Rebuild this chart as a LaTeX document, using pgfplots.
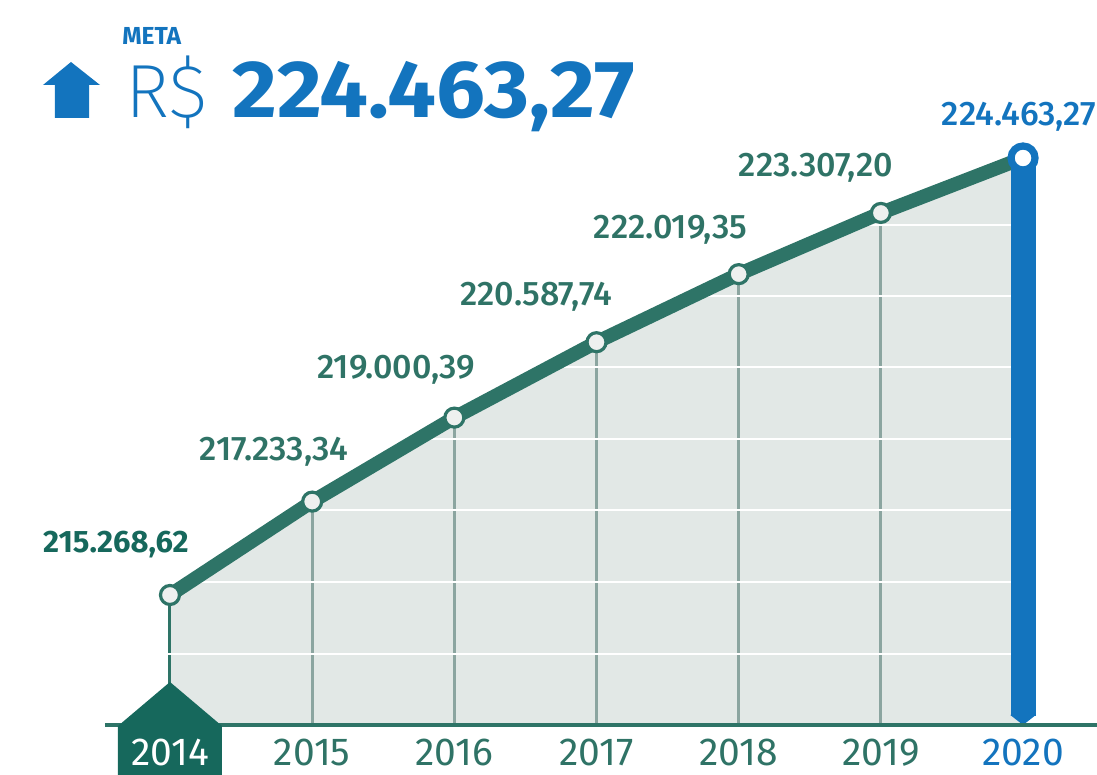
\documentclass[border=0pt]{standalone}
\usepackage{fontspec}
\setmainfont{Fira Sans}
\IfFontExistsTF{Fira Sans Medium}{\newfontfamily\medfont{Fira Sans Medium}}{\newfontfamily\medfont{Fira Sans}}
\IfFontExistsTF{Fira Sans ExtraLight}{\newfontfamily\lightfont{Fira Sans ExtraLight}}{%
  \IfFontExistsTF{Fira Sans Light}{\newfontfamily\lightfont{Fira Sans Light}}{\newfontfamily\lightfont{Fira Sans}}}
\usepackage{pgfplots}
\pgfplotsset{compat=1.18}
\usetikzlibrary{arrows.meta}

\definecolor{lineC}{RGB}{46,116,103}
\definecolor{dropC}{RGB}{139,165,160}
\definecolor{fillC}{RGB}{226,232,230}
\definecolor{labC}{RGB}{47,115,102}
\definecolor{darkC}{RGB}{22,104,92}
\definecolor{blueC}{RGB}{19,116,190}
\definecolor{markF}{RGB}{238,240,239}

\pgfplotsset{vlabel/.style n args={3}{draw=none, mark=none, point meta=explicit symbolic, nodes near coords,
  every node near coord/.append style={anchor=center, xshift=#1, yshift=#2,
    font=\medfont\fontsize{17}{20}\selectfont, text=#3}}}

\begin{document}
\begin{tikzpicture}
\useasboundingbox (-52.5pt,-25pt) rectangle (496pt,362.5pt);
\begin{axis}[
  at={(0,0)}, anchor=south west, scale only axis,
  width=496pt, height=362.5pt,
  xmin=2013.543, xmax=2020.52, ymin=212533, ymax=227788,
  clip=false, axis on top, axis line style={draw=none},
  ytick=\empty, xtick={2014,2015,2016,2017,2018,2019,2020}, major tick length=0pt,
  xticklabels={\textcolor{white}{2014},2015,2016,2017,2018,2019,\textcolor{blueC}{2020}},
  xticklabel style={font=\fontsize{19.5}{22}\selectfont, text=labC, anchor=base, text depth=0pt,
    inner sep=0pt, yshift=-20.5pt}]

% area under the line
\addplot[draw=none, fill=fillC] coordinates {(2014,212533) (2014,215268.62) (2015,217233.34) (2016,219000.39)
  (2017,220587.74) (2018,222019.35) (2019,223307.20) (2020,224463.27) (2020,212533)} -- cycle;

% drop lines
\addplot[lineC, line width=1.5pt] coordinates {(2014,212533) (2014,215268.62)};
\addplot[dropC, line width=1.5pt] coordinates {(2015,212533) (2015,217233.34)};
\addplot[dropC, line width=1.5pt] coordinates {(2016,212533) (2016,219000.39)};
\addplot[dropC, line width=1.5pt] coordinates {(2017,212533) (2017,220587.74)};
\addplot[dropC, line width=1.5pt] coordinates {(2018,212533) (2018,222019.35)};
\addplot[dropC, line width=1.5pt] coordinates {(2019,212533) (2019,223307.20)};

% white grid lines
\pgfplotsinvokeforeach{0.0986,0.1972,0.2959,0.3945,0.4931,0.5917,0.6903}{
  \draw[white, line width=1pt] (rel axis cs:0,#1) -- (rel axis cs:1,#1);
}

% main line
\addplot[lineC, line width=7pt, mark=*, mark indices={1,2,3,4,5,6}, mark size=4.75pt,
  mark options={draw=lineC, fill=markF, line width=1.6pt}]
  coordinates {(2014,215268.62) (2015,217233.34) (2016,219000.39) (2017,220587.74)
  (2018,222019.35) (2019,223307.20) (2020,224463.27)};

% 2020 bar
\addplot[blueC, line width=12.5pt, -{Triangle[width=12.5pt,length=5pt]}]
  coordinates {(2020,224463.27) (2020,212533)};
\addplot[only marks, mark=*, mark size=6pt, mark options={draw=blueC, fill=white, line width=3.6pt}]
  coordinates {(2020,224463.27)};

% baseline and 2014 tag
\draw[lineC, line width=2pt] (rel axis cs:0,0) -- (rel axis cs:1,0);
\fill[darkC] ([shift={(-26pt,-30pt)}]axis cs:2014,212533) -- ([shift={(-26pt,-0.5pt)}]axis cs:2014,212533)
  -- ([shift={(0pt,21.5pt)}]axis cs:2014,212533) -- ([shift={(26pt,-0.5pt)}]axis cs:2014,212533)
  -- ([shift={(26pt,-30pt)}]axis cs:2014,212533) -- cycle;

% value labels
\addplot[draw=none, mark=none, point meta=explicit symbolic, nodes near coords,
  every node near coord/.append style={anchor=center, xshift=-27pt, yshift=25pt,
    font=\bfseries\fontsize{15.5}{18}\selectfont, text=darkC}]
  coordinates {(2014,215268.62) [215.268,62]};
\addplot[vlabel={-19pt}{25pt}{labC}] coordinates {(2015,217233.34) [217.233,34]};
\addplot[vlabel={-29pt}{24pt}{labC}] coordinates {(2016,219000.39) [219.000,39]};
\addplot[vlabel={-30pt}{22.5pt}{labC}] coordinates {(2017,220587.74) [220.587,74]};
\addplot[vlabel={-34pt}{22pt}{labC}] coordinates {(2018,222019.35) [222.019,35]};
\addplot[vlabel={-32.5pt}{22.5pt}{labC}] coordinates {(2019,223307.20) [223.307,20]};
\addplot[vlabel={-2pt}{20.5pt}{blueC}] coordinates {(2020,224463.27) [224.463,27]};
\end{axis}

% header
\fill[blueC] (-31pt,320pt) -- (-17pt,331.5pt) -- (-2.5pt,320pt) -- (-8pt,320pt) -- (-8pt,303.5pt)
  -- (-25pt,303.5pt) -- (-25pt,320pt) -- cycle;
\node[anchor=base west, inner sep=0pt, text=blueC, font=\bfseries\fontsize{12.3}{14}\selectfont] at (8.5pt,340pt) {META};
\node[anchor=base west, inner sep=0pt, text=blueC, font=\lightfont\fontsize{37.7}{40}\selectfont] at (10pt,303.5pt) {R\$};
\node[anchor=base west, inner sep=0pt, text=blueC, font=\bfseries\fontsize{40.5}{44}\selectfont] at (63.5pt,303.5pt) {\scalebox{1.07}[1]{224.463,27}};
\end{tikzpicture}
\end{document}
